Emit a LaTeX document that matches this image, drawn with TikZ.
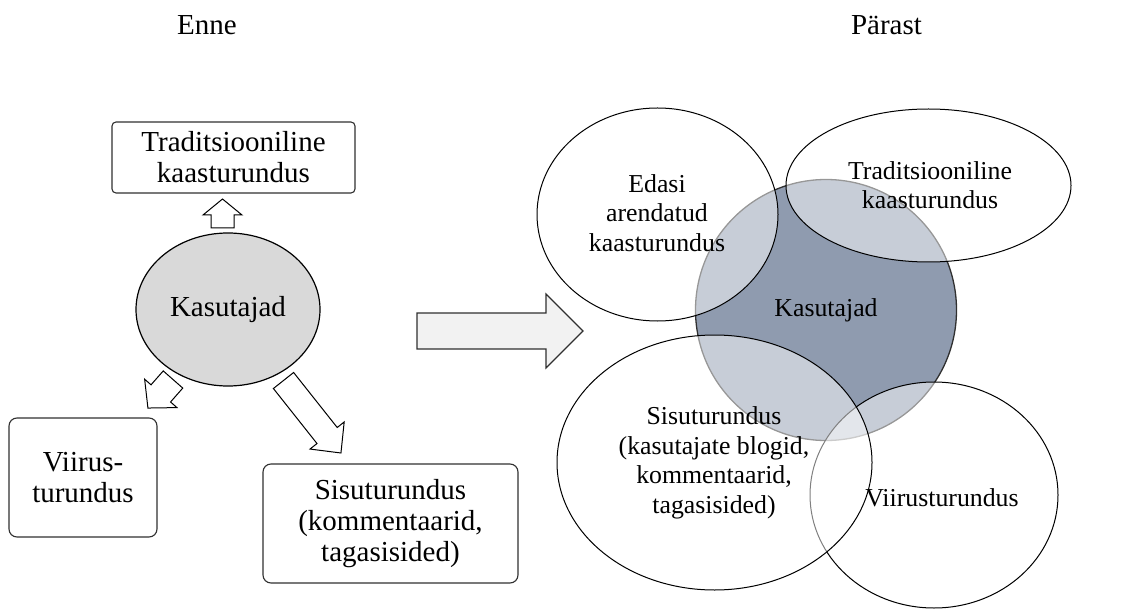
\documentclass[tikz,border=0pt]{standalone}
\usepackage{fontspec}
\setmainfont{Liberation Serif}
\usetikzlibrary{shapes.geometric}
\definecolor{usercore}{HTML}{8F9BAF}
\definecolor{hubgray}{HTML}{D9D9D9}
\definecolor{arrowfill}{HTML}{F2F2F2}
\definecolor{edgegray}{HTML}{303030}
% block arrow: #1 style, #2/#3 tail midpoint, #4 direction,
% #5 total length, #6 shaft width, #7 head width, #8 head length
\newcommand\blockarrow[8]{%
  \begin{scope}[shift={(#2,#3)}, rotate=#4]
    \path[#1] (0,{-#6/2}) -- ({#5-#8},{-#6/2}) -- ({#5-#8},{-#7/2})
      -- (#5,0) -- ({#5-#8},{#7/2}) -- ({#5-#8},{#6/2}) -- (0,{#6/2}) -- cycle;
  \end{scope}}
\begin{document}
\begin{tikzpicture}[x=1pt,y=-1pt,
  bigtext/.style={font=\fontsize{29}{31}\selectfont},
  smalltext/.style={font=\fontsize{25.8}{29.5}\selectfont, align=center},
  labelbox/.style={draw=edgegray, line width=1.1pt, rounded corners=8pt,
    align=center, bigtext, inner sep=0pt},
  smallarrow/.style={draw=black, line width=1pt, fill=white, line join=miter},
  bigarrow/.style={draw=edgegray, line width=1.2pt, fill=arrowfill, line join=miter},
  venn/.style={ellipse, draw=black, line width=1pt, fill=white,
    fill opacity=0.5, inner sep=0pt}]
\useasboundingbox (0,0) rectangle (1139,609);

% headings
\node[bigtext] (before) at (207,25) {Enne};
\node[bigtext] (after) at (886.5,25) {Pärast};

% ---- before: users in the middle, three separate channels ----
\node[ellipse, draw=black, line width=1.2pt, fill=hubgray, inner sep=0pt,
  minimum width=184pt, minimum height=153pt, bigtext] (hub) at (228,309.5) {Kasutajad};
\node[labelbox, rounded corners=4pt, minimum width=243pt, minimum height=71pt]
  (tradbox) at (233.5,157.5) {Traditsiooniline\\kaasturundus};
\node[labelbox, minimum width=148pt, minimum height=119pt]
  (viralbox) at (83,477.5) {Viirus-\\turundus};
\node[labelbox, minimum width=255pt, minimum height=119pt]
  (contentbox) at (390.5,523.5) {Sisuturundus\\(kommentaarid,\\tagasisided)};

\blockarrow{smallarrow}{222.5}{228}{90}{29}{23}{39}{16}
\blockarrow{smallarrow}{173}{379.5}{228.7}{38}{26}{43}{19.5}
\blockarrow{smallarrow}{283.5}{380.5}{-51.6}{92.5}{25.8}{43.6}{22.3}

% ---- transition ----
\blockarrow{bigarrow}{417}{331}{0}{166}{36}{74}{37}

% ---- after: users at the core, overlapping channels ----
\node[circle, draw=edgegray, line width=1.3pt, fill=usercore, inner sep=0pt,
  minimum size=261pt] (core) at (826,310) {};
\node[venn, minimum width=241pt, minimum height=213pt] (advanced) at (657.5,214.5) {};
\node[venn, minimum width=285pt, minimum height=153pt] (classic) at (928.5,185.5) {};
\node[venn, minimum width=248pt, minimum height=226pt] (viral) at (934,495) {};
\node[venn, minimum width=315pt, minimum height=255pt] (content) at (714.5,462.5) {};

\node[smalltext] (coreText) at (core.center) {Kasutajad};
\node[smalltext] (advancedText) at (657,213) {Edasi\\arendatud\\kaasturundus};
\node[smalltext] (classicText) at (930,185) {Traditsiooniline\\kaasturundus};
\node[smalltext] (contentText) at (714,463) {Sisuturundus\\(kasutajate blogid,\\kommentaarid,\\tagasisided)};
\node[smalltext] (viralText) at (942,498) {Viirusturundus};
\end{tikzpicture}
\end{document}
